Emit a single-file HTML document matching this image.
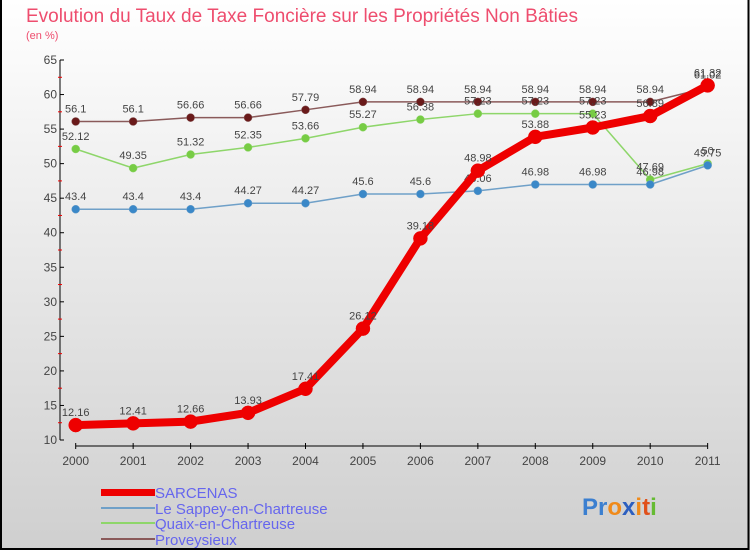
<!DOCTYPE html>
<html><head><meta charset="utf-8"><style>
html,body{margin:0;padding:0}
body{width:750px;height:550px;overflow:hidden;font-family:"Liberation Sans",sans-serif}
</style></head><body>
<svg id="chart" width="750" height="550" xmlns="http://www.w3.org/2000/svg" font-family="Liberation Sans, sans-serif">
<defs><linearGradient id="bg" x1="0" y1="0" x2="0" y2="1"><stop offset="0" stop-color="#ffffff"/><stop offset="1" stop-color="#cfcfcf"/></linearGradient></defs>
<rect x="0" y="0" width="750" height="550" fill="url(#bg)"/>
<path d="M1 0 V549 H748.5 V0" fill="none" stroke="#000" stroke-width="2"/>
<text x="26" y="22" font-size="19" fill="#ee4d6e" textLength="552" lengthAdjust="spacingAndGlyphs">Evolution du Taux de Taxe Foncière sur les Propriétés Non Bâties</text>
<text x="26" y="39" font-size="11" fill="#ee4d6e">(en %)</text>
<g id="axes"></g>
<g id="series"></g>
<g font-size="15" fill="#6666ee">
<rect x="101" y="489" width="54" height="7" fill="#ee0000"/>
<text x="155" y="498" fill="#6666ee">SARCENAS</text>
<rect x="101" y="507" width="54" height="2" fill="#6fa0c8"/>
<text x="155" y="514" fill="#6666ee">Le Sappey-en-Chartreuse</text>
<rect x="101" y="522" width="54" height="2" fill="#8ed66a"/>
<text x="155" y="529" fill="#6666ee">Quaix-en-Chartreuse</text>
<rect x="101" y="538" width="54" height="2" fill="#8a5a5a"/>
<text x="155" y="545" fill="#6666ee">Proveysieux</text>
</g>
<text x="582" y="515" font-size="24" font-weight="bold"><tspan fill="#3b7fd0">Pr</tspan><tspan fill="#f08a1a">o</tspan><tspan fill="#2c5fc0">x</tspan><tspan fill="#f08a1a">i</tspan><tspan fill="#e0501a">t</tspan><tspan fill="#66bb33">i</tspan></text>
</svg>
<script>
const years=[2000,2001,2002,2003,2004,2005,2006,2007,2008,2009,2010,2011];
const yTicks=[10,15,20,25,30,35,40,45,50,55,60,65];
const sarcenas=[12.16,12.41,12.66,13.93,17.41,26.12,39.18,48.98,53.88,55.23,56.89,61.32];
const sappey=[43.4,43.4,43.4,44.27,44.27,45.6,45.6,46.06,46.98,46.98,46.98,49.75];
const quaix=[52.12,49.35,51.32,52.35,53.66,55.27,56.38,57.23,57.23,57.23,47.69,50];
const proveysieux=[56.1,56.1,56.66,56.66,57.79,58.94,58.94,58.94,58.94,58.94,58.94,61.02];
const NS="http://www.w3.org/2000/svg";
const xS=i=>75.7+i*57.45;
const yS=v=>440-(v-10)*380/55;
function mk(t,a,p){const e=document.createElementNS(NS,t);for(const k in a)e.setAttribute(k,a[k]);p.appendChild(e);return e;}
const ax=document.getElementById('axes');
const yl=mk('line',{x1:60,y1:60,x2:60,y2:440,stroke:'#000'},ax);


const xl=mk('line',{x1:75.7,y1:446,x2:xS(11),y2:446,stroke:'#000'},ax);


yTicks.forEach(v=>{
  mk('line',{x1:60,y1:yS(v),x2:64,y2:yS(v),stroke:'#000'},ax);
  if(v<65) mk('line',{x1:58,y1:yS(v+2.5),x2:62,y2:yS(v+2.5),stroke:'#e00'},ax);
  const t=mk('text',{x:57,y:yS(v)+4,'font-size':12,fill:'#444','text-anchor':'end'},ax);
  t.textContent=v;
  
  
});
years.forEach((y,i)=>{
  mk('line',{x1:xS(i),y1:443,x2:xS(i),y2:449,stroke:'#000'},ax);
  const t=mk('text',{x:xS(i),y:465,'font-size':12,fill:'#444','text-anchor':'middle'},ax);
  t.textContent=y;
  
  
});
const sg=document.getElementById('series');
function draw(vals,name,line,dot,w,r){
  const g=mk('g',{},sg);
  
  
  const pl=mk('polyline',{points:vals.map((v,i)=>xS(i)+','+yS(v)).join(' '),fill:'none',stroke:line,'stroke-width':w,'stroke-linejoin':'round'},g);
  
  
  vals.forEach((v,i)=>{
    const c=mk('circle',{cx:xS(i),cy:yS(v),r:r,fill:dot,stroke:line,'stroke-width':0.5},g);
    
    
    const t=mk('text',{x:xS(i),y:yS(v)-9,'font-size':11,fill:'#444','text-anchor':'middle'},g);
    t.textContent=v;
    
    
  });
}
draw(proveysieux,'proveysieux','#8a5a5a','#6a1a1a',1.5,4);
draw(quaix,'quaix','#8ed66a','#77cc44',1.5,4);
draw(sappey,'sappey','#6fa0c8','#3a88c8',1.5,4);
draw(sarcenas,'sarcenas','#ee0000','#ee0000',8,7);
</script>
</body></html>
